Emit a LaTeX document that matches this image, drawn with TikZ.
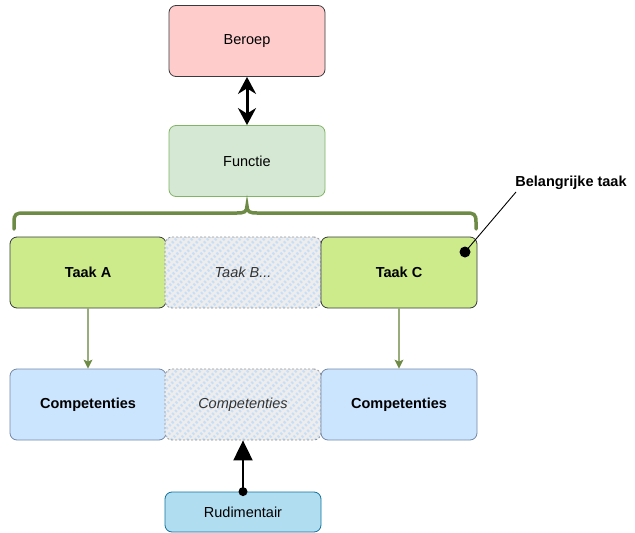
\documentclass[tikz,border=0pt]{standalone}
\usepackage{fontspec}
\setmainfont{Liberation Sans}
\usetikzlibrary{arrows.meta}
\definecolor{redfill}{HTML}{FFCCCC}
\definecolor{greenfill}{HTML}{D5E8D4}
\definecolor{greenline}{HTML}{82B366}
\definecolor{limefill}{HTML}{CDEB8B}
\definecolor{bluefill}{HTML}{CCE5FF}
\definecolor{bluestroke}{HTML}{6C8EBF}
\definecolor{bracecol}{HTML}{6D8B45}
\definecolor{flowline}{HTML}{98AC7C}
\definecolor{rudfill}{HTML}{B1DDF0}
\definecolor{rudline}{HTML}{10739E}
\definecolor{darkline}{HTML}{36393D}
\definecolor{hatchcol}{HTML}{C8DEF7}
\tikzset{
  box/.style={rounded corners=7pt, minimum width=156pt, minimum height=71pt, inner sep=0pt, font=\fontsize{14.5}{17}\selectfont},
  redbox/.style={box, draw=darkline, fill=redfill, line width=0.8pt},
  greenbox/.style={box, draw=greenline, fill=greenfill, line width=0.8pt},
  limebox/.style={box, draw=darkline, fill=limefill, line width=0.8pt, font=\fontsize{14.5}{17}\selectfont\bfseries},
  compbox/.style={box, draw=bluestroke!60!gray, fill=bluefill, line width=0.8pt, font=\fontsize{14.5}{17}\selectfont\bfseries},
  hatchbox/.style={box, draw=gray!85, dash pattern=on 2pt off 2pt, line width=0.8pt, fill=gray!14,
     path picture={\foreach \i in {-90,-82,...,160}
        {\draw[hatchcol, line width=2.8pt] ([xshift=\i pt]path picture bounding box.south west) -- ++(90pt,90pt);}},
     font=\fontsize{14.5}{17}\selectfont\itshape, text=gray!40!black},
  rudbox/.style={box, minimum height=40pt, draw=rudline, fill=rudfill, line width=0.8pt},
  flow/.style={draw=flowline, line width=1.2pt, -{Stealth[length=9pt,width=9pt,inset=2pt,fill=bracecol,color=bracecol]}},
}
\begin{document}
\begin{tikzpicture}[x=1pt,y=-1pt]
\useasboundingbox (0,0) rectangle (635,533);
\node[redbox] (beroep) at (247,41) {Beroep};
\node[greenbox] (functie) at (247,161) {Functie};
\draw[line width=3pt, {Stealth[length=17pt,width=18pt]}-{Stealth[length=17pt,width=18pt]}] (beroep.south) -- (functie.north);
\node[limebox] (taakA) at (88,272.5) {Taak A};
\node[hatchbox] (taakB) at (243,272.5) {Taak B...};
\node[limebox] (taakC) at (399,272.5) {Taak C};
\draw[draw=bracecol, line width=3.5pt, line cap=round]
  (14,229) -- (14,222) .. controls (14,214) and (16,213) .. (24,213) -- (237,213)
  .. controls (244,213) and (247,212) .. (247,206)
  .. controls (247,212) and (250,213) .. (257,213) -- (466,213)
  .. controls (474,213) and (476,214) .. (476,222) -- (476,229);
\node[compbox] (compA) at (88,404.5) {Competenties};
\node[hatchbox] (compB) at (243,404.5) {Competenties};
\node[compbox] (compC) at (399,404.5) {Competenties};
\node[rudbox] (rud) at (243,512) {Rudimentair};
\draw[flow] (taakA) -- (compA);
\draw[flow] (taakC) -- (compC);
\fill (rud.north) circle (4.5pt);
\draw[line width=2pt, -{Triangle[length=20pt,width=19pt]}] (rud.north) -- (compB.south);
\coordinate (dot) at (465,252);
\node[font=\fontsize{14.5}{17}\selectfont\bfseries] (belangrijk) at (571,183) {Belangrijke taak};
\fill (dot) circle (5.5pt);
\draw[line width=0.9pt] (dot) -- (516,192);
\end{tikzpicture}
\end{document}
